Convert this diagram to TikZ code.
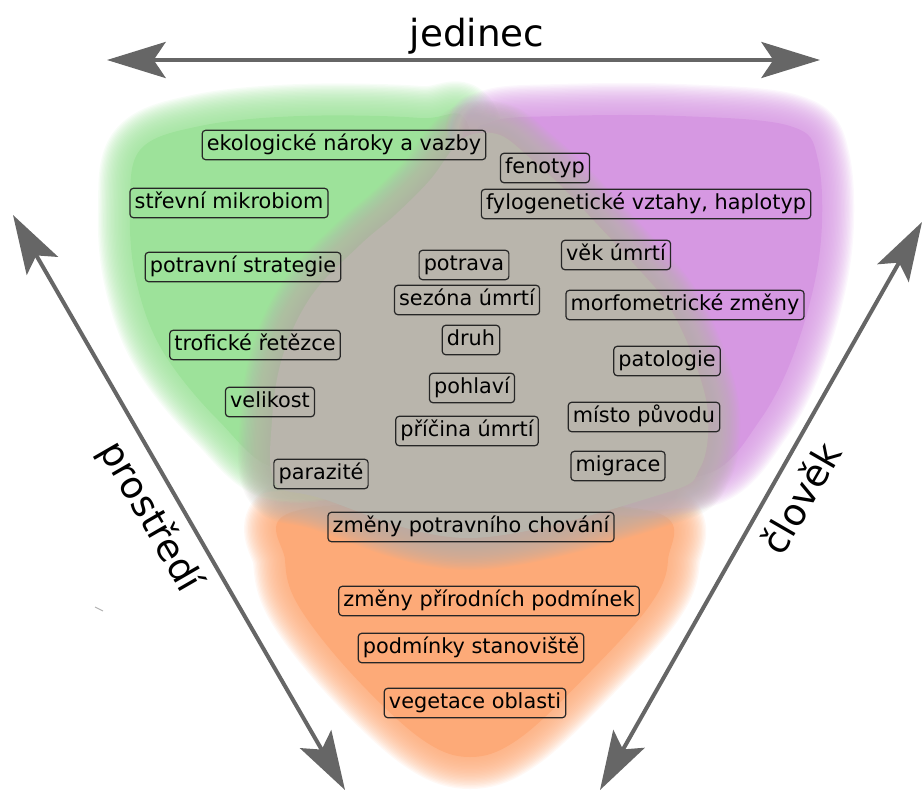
\documentclass[tikz,border=0pt]{standalone}
\usepackage{fontspec}
\setmainfont{DejaVu Sans}
\usetikzlibrary{arrows.meta}
\definecolor{LeafGreen}{HTML}{9DE29A}
\definecolor{SoftViolet}{HTML}{D698E2}
\definecolor{SoftOrange}{HTML}{FDAA78}
\definecolor{CoreGray}{HTML}{B9B5AC}
\definecolor{AxisGray}{HTML}{666666}
\definecolor{TagLine}{HTML}{262626}
\tikzset{
  tag/.style={draw=TagLine, line width=0.9pt, rounded corners=2.5pt, inner xsep=3.5pt, inner ysep=0pt, minimum height=22pt, text height=12pt, text depth=3.6pt, font=\fontsize{15.6}{18}\selectfont},
  axis/.style={{Stealth[length=44pt, width=27pt, inset=9pt]}-{Stealth[length=44pt, width=27pt, inset=9pt]}, line width=3pt, draw=AxisGray},
  axislabel/.style={inner sep=0pt, font=\fontsize{28}{32}\selectfont},
  halo/.style={draw=#1, opacity=0.08, line join=round}
}
\newcommand{\softblob}[2]{%
  \foreach \w in {2,4,...,48}{\path[halo=#1, line width=\w pt] #2;}
  \fill[#1] #2;}

\begin{document}
\begin{tikzpicture}[x=0.75pt, y=-0.75pt]
\useasboundingbox (0,0) rectangle (923,792);
\softblob{SoftOrange}{plot[smooth cycle, tension=0.6] coordinates {(292,512) (470,500) (655,512) (668,560) (650,605) (590,672) (520,738) (470,757) (420,738) (350,672) (298,605) (285,560)}}
\softblob{LeafGreen}{plot[smooth cycle, tension=0.6] coordinates {(140,150) (200,126) (300,116) (420,118) (470,130) (470,300) (380,440) (282,470) (218,420) (162,350) (136,280) (130,210)}}
\softblob{SoftViolet}{plot[smooth cycle, tension=0.6] coordinates {(490,122) (560,116) (680,116) (790,126) (818,160) (820,250) (797,345) (760,420) (705,475) (600,470) (520,300) (480,150)}}
\softblob{CoreGray}{plot[smooth cycle, tension=0.6] coordinates {(470,135) (500,135) (530,158) (560,185) (595,222) (632,262) (668,305) (694,360) (708,415) (700,468) (662,494) (470,538) (320,498) (275,482) (272,420) (283,355) (312,295) (360,245) (395,215) (430,180) (452,150)}}

\node[tag] (eko) at (344,145) {ekologické nároky a vazby};
\node[tag] (feno) at (545,168) {fenotyp};
\node[tag] (mikro) at (229,203) {střevní mikrobiom};
\node[tag] (fylo) at (646,204) {fylogenetické vztahy, haplotyp};
\node[tag] (strat) at (243,267) {potravní strategie};
\node[tag] (potrava) at (464,265) {potrava};
\node[tag] (vek) at (616,255) {věk úmrtí};
\node[tag] (sezona) at (467,300) {sezóna úmrtí};
\node[tag] (morfo) at (685,305) {morfometrické změny};
\node[tag] (druh) at (471,340) {druh};
\node[tag] (trof) at (255,345) {trofické řetězce};
\node[tag] (pato) at (667,361) {patologie};
\node[tag] (pohl) at (472,388) {pohlaví};
\node[tag] (velik) at (270,402) {velikost};
\node[tag] (misto) at (644,417) {místo původu};
\node[tag] (pricina) at (467,431) {příčina úmrtí};
\node[tag] (migr) at (618,466) {migrace};
\node[tag] (paraz) at (321,474) {parazité};
\node[tag] (chovani) at (471,527) {změny potravního chování};
\node[tag] (podm) at (489,601) {změny přírodních podmínek};
\node[tag] (stan) at (471,648) {podmínky stanoviště};
\node[tag] (veget) at (475,703) {vegetace oblasti};

\coordinate (topL) at (107,60);
\coordinate (topR) at (820,60);
\coordinate (leftU) at (13,215);
\coordinate (leftD) at (345,790);
\coordinate (rightU) at (922,222);
\coordinate (rightD) at (600,790);
\draw[axis] (topL) -- (topR);
\draw[axis] (leftU) -- (leftD);
\draw[axis] (rightD) -- (rightU);
\node[axislabel] (jedinec) at (477,36) {jedinec};
\node[axislabel, rotate=-60] (prostredi) at (150,517) {prostředí};
\node[axislabel, rotate=60] (clovek) at (800,498) {člověk};
\draw[AxisGray!50, line width=0.8pt] (95,607) -- (103,611);
\end{tikzpicture}
\end{document}
